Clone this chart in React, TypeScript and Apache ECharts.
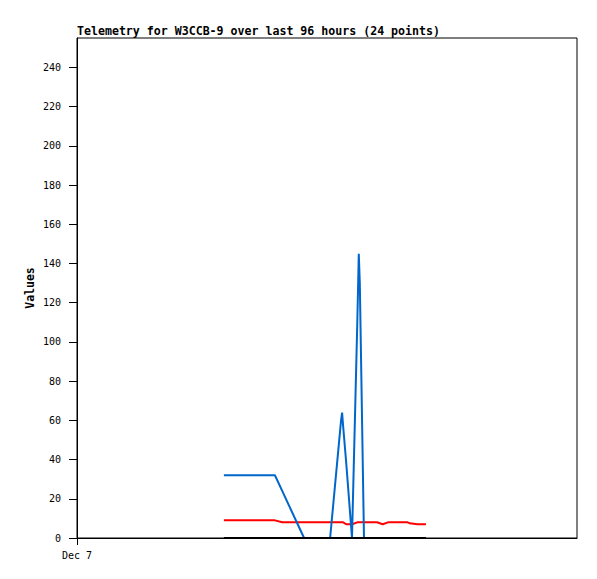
import React, { useEffect, useRef } from "react";
import * as echarts from "echarts";

// hours after Dec 7 00:00
const hours = [28.2, 33.2, 38.0, 39.4, 43.6, 48.6, 50.7, 50.9, 51.1, 51.7, 52.8, 53.8, 54.0, 54.1, 54.3, 55.1, 57.6, 58.7, 59.7, 62.0, 63.5, 63.9, 65.4, 67.0];
const blueValues = [32, 32, 32, 24, 0, 0, 60, 64, 57, 38, 0, 108, 132, 145, 130, 0, 0, 0, 0, 0, 0, 0, 0, 0];
const redValues = [9, 9, 9, 8, 8, 8, 8, 8, 8, 7, 7, 8, 8, 8, 8, 8, 8, 7, 8, 8, 8, 7.5, 7, 7];
const blackValues = [0, 0, 0, 0, 0, 0, 0, 0, 0, 0, 0, 0, 0, 0, 0, 0, 0, 0, 0, 0, 0, 0, 0, 0];
const yTicks = [0, 20, 40, 60, 80, 100, 120, 140, 160, 180, 200, 220, 240];
const xLabelText = "Dec 7";
const titleText = "Telemetry for W3CCB-9 over last 96 hours (24 points)";

const pair = (vals: number[]) => hours.map((h, i) => [h, vals[i]]);

export default function App() {
  const ref = useRef<HTMLDivElement>(null);
  useEffect(() => {
    if (!ref.current) return;
    const chart = echarts.init(ref.current, null, { renderer: "svg" });
    const mono = "DejaVu Sans Mono";
    chart.setOption({
      animation: false,
      backgroundColor: "#ffffff",
      title: {
        text: titleText,
        left: 77,
        top: 25,
        textStyle: { fontFamily: mono, fontSize: 11.6, fontWeight: "bold", color: "#000" },
        padding: 0,
      },
      grid: {
        left: 77,
        top: 38,
        right: 20,
        bottom: 41,
        show: true,
        borderColor: "#000",
        borderWidth: 1,
        backgroundColor: "transparent",
      },
      xAxis: {
        type: "value",
        min: 0,
        max: 96,
        interval: 96,
        splitLine: { show: false },
        axisLine: { show: true, onZero: false, lineStyle: { color: "#000", width: 1 } },
        axisTick: { show: true, length: 7, customValues: [0], lineStyle: { color: "#000" } },
        axisLabel: {
          customValues: [0],
          formatter: (v: number) => (v === 0 ? xLabelText : ""),
          fontFamily: mono,
          fontSize: 10,
          color: "#000",
          margin: 12,
        },
      },
      yAxis: {
        type: "value",
        min: 0,
        max: 255,
        name: "Values",
        nameLocation: "middle",
        nameGap: 41,
        nameMoveOverlap: false,
        nameTextStyle: { fontFamily: mono, fontSize: 11.5, fontWeight: "bold", color: "#000" },
        splitLine: { show: false },
        axisLine: { show: true, lineStyle: { color: "#000", width: 1 } },
        axisTick: { show: true, length: 8, customValues: yTicks, lineStyle: { color: "#000" } },
        axisLabel: {
          customValues: yTicks,
          fontFamily: mono,
          fontSize: 10,
          color: "#000",
          margin: 16,
        },
      },
      series: [
        {
          type: "line",
          data: pair(redValues),
          showSymbol: false,
          lineStyle: { color: "#ff0000", width: 2 },
          itemStyle: { color: "#ff0000" },
        },
        {
          type: "line",
          data: pair(blueValues),
          showSymbol: false,
          lineStyle: { color: "#0066cc", width: 2 },
          itemStyle: { color: "#0066cc" },
        },
        {
          type: "line",
          data: pair(blackValues),
          showSymbol: false,
          lineStyle: { color: "#000000", width: 2 },
          itemStyle: { color: "#000000" },
        },
      ],
    });
    return () => chart.dispose();
  }, []);
  return (
    <div
      ref={ref}
      style={{ position: "fixed", left: 0, top: 0, width: 597, height: 579, background: "#fff" }}
    />
  );
}
